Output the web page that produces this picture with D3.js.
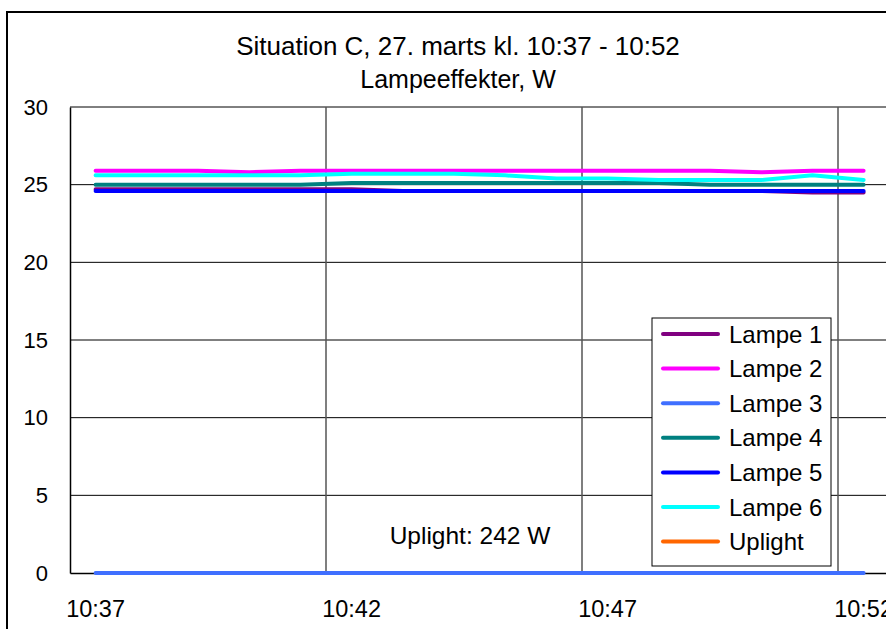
<!DOCTYPE html>
<html>
<head>
<meta charset="utf-8">
<script src="https://cdn.jsdelivr.net/npm/d3@7"></script>
<style>
  body { margin: 0; background: #fff; }
  text { font-family: "Liberation Sans", Arial, sans-serif; fill: #000; }
</style>
</head>
<body>
<div id="chart"></div>
<script>
// minutes on the category axis
var times = ["10:37", "10:38", "10:39", "10:40", "10:41", "10:42", "10:43", "10:44",
  "10:45", "10:46", "10:47", "10:48", "10:49", "10:50", "10:51", "10:52"];

// lamp power, W
var lampe1 = [24.7, 24.7, 24.7, 24.7, 24.7, 24.7, 24.6, 24.6, 24.6, 24.6, 24.6, 24.6, 24.6, 24.6, 24.5, 24.5];
var lampe2 = [25.9, 25.9, 25.9, 25.8, 25.9, 25.9, 25.9, 25.9, 25.9, 25.9, 25.9, 25.9, 25.9, 25.8, 25.9, 25.9];
var lampe3 = [0, 0, 0, 0, 0, 0, 0, 0, 0, 0, 0, 0, 0, 0, 0, 0];
var lampe4 = [25.0, 25.0, 25.0, 25.0, 25.0, 25.1, 25.1, 25.1, 25.1, 25.1, 25.1, 25.1, 25.0, 25.0, 25.0, 25.0];
var lampe5 = [24.6, 24.6, 24.6, 24.6, 24.6, 24.6, 24.6, 24.6, 24.6, 24.6, 24.6, 24.6, 24.6, 24.6, 24.6, 24.6];
var lampe6 = [25.6, 25.6, 25.6, 25.6, 25.6, 25.7, 25.7, 25.7, 25.6, 25.4, 25.4, 25.3, 25.3, 25.3, 25.6, 25.3];
var uplight = [242, 242, 242, 242, 242, 242, 242, 242, 242, 242, 242, 242, 242, 242, 242, 242];

var seriesNames = ["Lampe 1", "Lampe 2", "Lampe 3", "Lampe 4", "Lampe 5", "Lampe 6", "Uplight"];
var seriesColors = ["#800080", "#ff00ff", "#3f6fff", "#008080", "#0000ff", "#00ffff", "#ff6600"];
var yTicks = [0, 5, 10, 15, 20, 25, 30];
var xLabelTimes = ["10:37", "10:42", "10:47", "10:52"];
var gridTimes = ["10:42", "10:47", "10:52"]; // gridlines sit on the left edge of these categories

var series = [lampe1, lampe2, lampe3, lampe4, lampe5, lampe6, uplight].map(function (v, i) {
  return { name: seriesNames[i], color: seriesColors[i], values: v };
});

var width = 886, height = 629;
var plotL = 70, plotT = 107, plotB = 573;
var band = 51.2; // one minute

var svg = d3.select("#chart").append("svg")
  .attr("width", width)
  .attr("height", height);

var x = d3.scaleBand()
  .domain(times)
  .range([plotL, plotL + band * times.length])
  .paddingInner(0).paddingOuter(0);

var y = d3.scaleLinear().domain([0, 30]).range([plotB, plotT]);

var plotR = x.range()[1];

// outer chart frame (runs off the right and bottom)
svg.append("rect")
  .attr("x", 7).attr("y", 12)
  .attr("width", 950).attr("height", 700)
  .attr("fill", "#fff")
  .attr("stroke", "#000")
  .attr("stroke-width", 2);

// titles
svg.append("text")
  .attr("x", 458).attr("y", 55)
  .attr("text-anchor", "middle")
  .style("font-size", "26px")
  .text("Situation C, 27. marts kl. 10:37 - 10:52");

svg.append("text")
  .attr("x", 458).attr("y", 88)
  .attr("text-anchor", "middle")
  .style("font-size", "25px")
  .text("Lampeeffekter, W");

// horizontal gridlines
svg.append("g")
  .selectAll("line")
  .data(yTicks.filter(function (d) { return d > 0; }))
  .enter().append("line")
  .attr("x1", plotL).attr("x2", plotR)
  .attr("y1", function (d) { return y(d); })
  .attr("y2", function (d) { return y(d); })
  .attr("stroke", "#000")
  .attr("stroke-width", 1);

// vertical gridlines between categories
svg.append("g")
  .selectAll("line")
  .data(gridTimes)
  .enter().append("line")
  .attr("x1", function (d) { return x(d); })
  .attr("x2", function (d) { return x(d); })
  .attr("y1", plotT).attr("y2", plotB)
  .attr("stroke", "#555")
  .attr("stroke-width", 1.5);

// y axis
var yAxis = svg.append("g")
  .attr("transform", "translate(" + plotL + ",0)")
  .call(d3.axisLeft(y).tickValues(yTicks).tickSize(0).tickPadding(22));
yAxis.select(".domain").attr("stroke", "#000").attr("stroke-width", 1.5);
yAxis.selectAll("text").style("font-size", "22px").style("font-family", "Liberation Sans, Arial, sans-serif");

// x axis
var xAxis = svg.append("g")
  .attr("transform", "translate(0," + plotB + ")")
  .call(d3.axisBottom(x).tickValues(xLabelTimes).tickSize(0).tickPadding(27));
xAxis.select(".domain").attr("stroke", "#000").attr("stroke-width", 1.5);
xAxis.selectAll("text").style("font-size", "23.5px").style("font-family", "Liberation Sans, Arial, sans-serif");

// clip data to the plot
svg.append("clipPath").attr("id", "plotclip")
  .append("rect")
  .attr("x", plotL).attr("y", plotT - 3)
  .attr("width", plotR - plotL).attr("height", plotB - plotT + 6);

var line = d3.line()
  .x(function (d, i) { return x(times[i]) + x.bandwidth() / 2; })
  .y(function (d) { return y(d); });

// series drawn in order, later ones on top
svg.append("g")
  .attr("clip-path", "url(#plotclip)")
  .selectAll("path")
  .data(series)
  .enter().append("path")
  .attr("d", function (d) { return line(d.values); })
  .attr("fill", "none")
  .attr("stroke", function (d) { return d.color; })
  .attr("stroke-width", 4)
  .attr("stroke-linejoin", "round")
  .attr("stroke-linecap", "round");

// annotation
svg.append("text")
  .attr("x", 470).attr("y", 544)
  .attr("text-anchor", "middle")
  .style("font-size", "24.5px")
  .text("Uplight: 242 W");

// legend
var legend = svg.append("g");
legend.append("rect")
  .attr("x", 652).attr("y", 318)
  .attr("width", 179).attr("height", 248)
  .attr("fill", "#fff")
  .attr("stroke", "#000")
  .attr("stroke-width", 1);

var item = legend.selectAll(".item")
  .data(series)
  .enter().append("g")
  .attr("transform", function (d, i) { return "translate(0," + (334 + i * 34.6) + ")"; });

item.append("line")
  .attr("x1", 663).attr("x2", 718)
  .attr("y1", 0).attr("y2", 0)
  .attr("stroke", function (d) { return d.color; })
  .attr("stroke-width", 4)
  .attr("stroke-linecap", "round");

item.append("text")
  .attr("x", 729).attr("y", 8.5)
  .style("font-size", "24px")
  .text(function (d) { return d.name; });
</script>
</body>
</html>
